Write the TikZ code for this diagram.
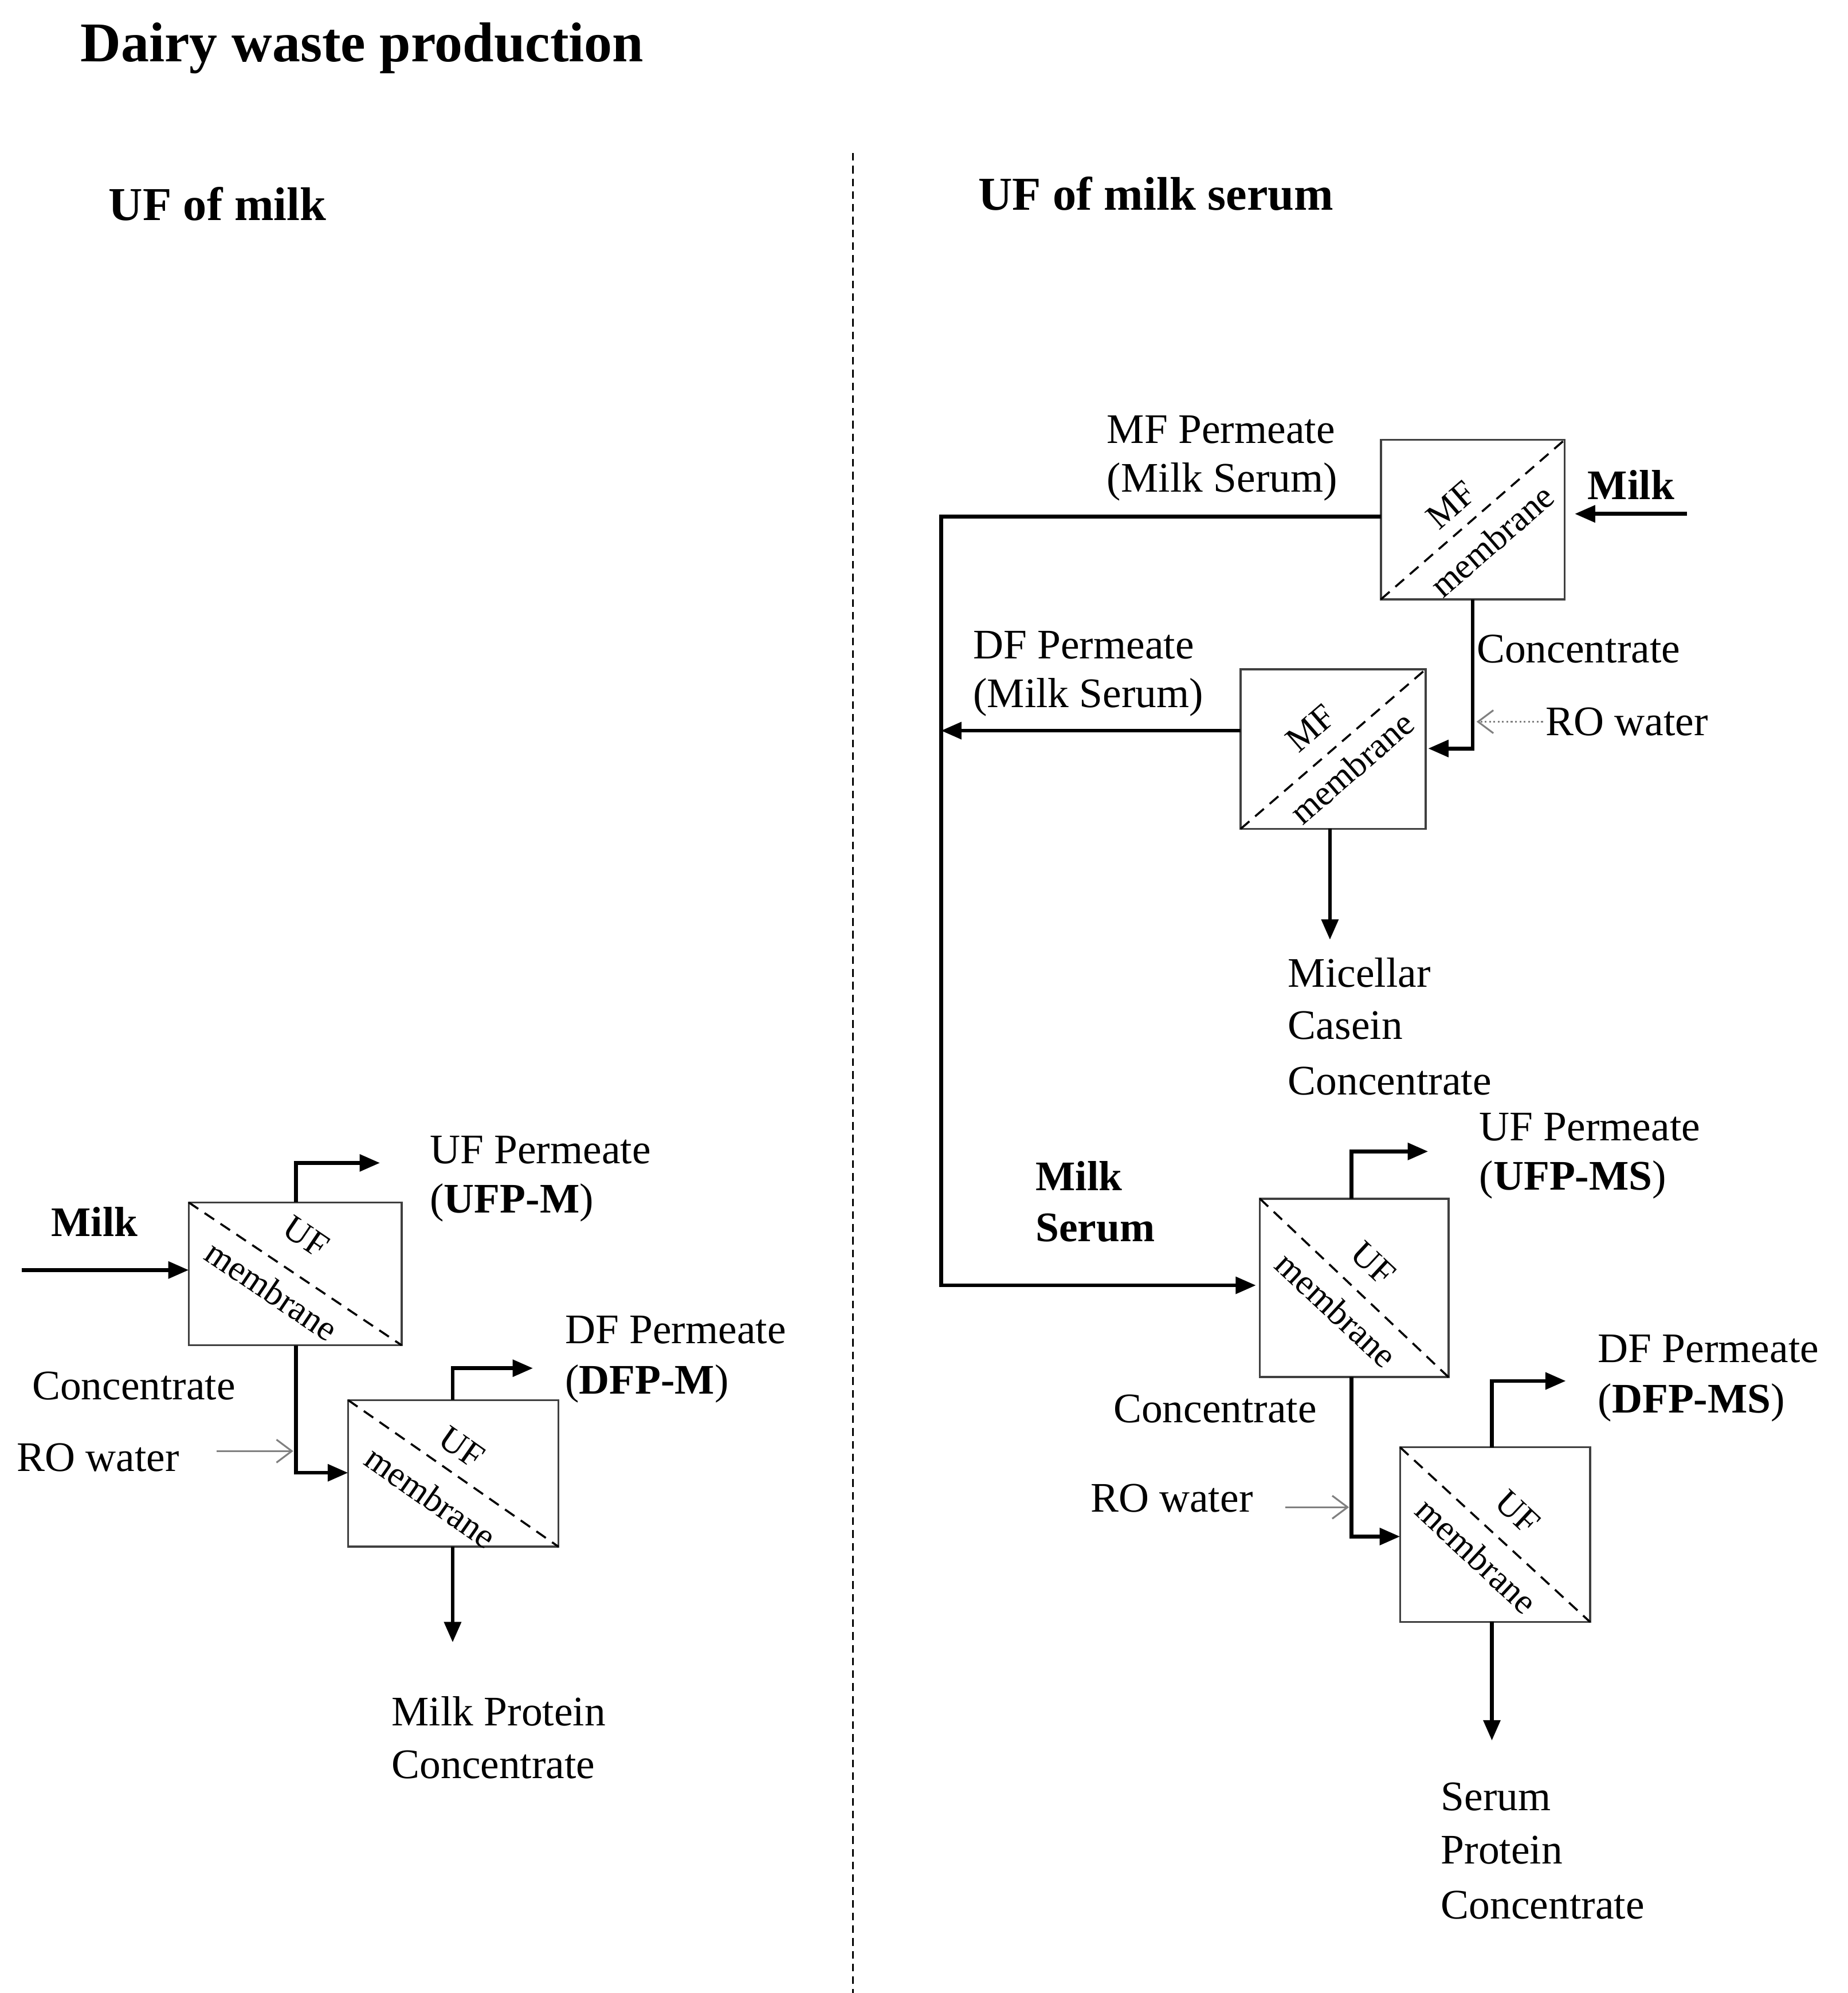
\documentclass[tikz,border=0pt]{standalone}
\usepackage{fontspec}
\setmainfont{Liberation Serif}
\usetikzlibrary{arrows.meta}
\begin{document}
\begin{tikzpicture}[x=1pt,y=-1pt,
 lbl/.style={font=\fontsize{33}{36}\selectfont,inner sep=0pt,anchor=west},
 blbl/.style={lbl,font=\fontsize{33}{36}\selectfont\bfseries},
 box/.style={draw=black!75,line width=1.6pt,fill=white},
 diag/.style={dash pattern=on 9pt off 6pt,line width=1.6pt},
 mem/.style={font=\fontsize{28}{30}\selectfont,inner sep=0pt},
 flow/.style={line width=3pt,-{Triangle[length=16pt,width=13pt]}},
 thin/.style={gray,line width=1.4pt,-{Straight Barb[length=12pt,width=18pt]}}]
\useasboundingbox (0,0) rectangle (1449,1563);
\node[lbl,font=\fontsize{44}{48}\selectfont\bfseries] (t) at (63,38) {Dairy waste production};
\node[lbl,font=\fontsize{37}{40}\selectfont\bfseries] (t1) at (85,160) {UF of milk};
\node[lbl,font=\fontsize{37}{40}\selectfont\bfseries] (t2) at (767,152) {UF of milk serum};
\coordinate (v1) at (669,120); \coordinate (v2) at (669,1563);
\draw[dash pattern=on 6pt off 4pt,line width=1.4pt] (v1)--(v2);
% ---- left
\draw[box] (148,943) rectangle (315,1055); \draw[diag] (148,943)--(315,1055);
\node[mem,rotate=-34] (u1) at (240,970) {UF};
\node[mem,rotate=-34] (m1) at (213,1012) {membrane};
\coordinate (a0) at (17,996); \coordinate (a1) at (148,996);
\draw[flow] (a0)--(a1);
\node[blbl] (milk1) at (40,958) {Milk};
\coordinate (p1) at (232,943); \coordinate (p1e) at (298,912);
\draw[flow] (p1)|-(p1e);
\node[lbl] (l1) at (337,902) {UF Permeate};
\node[lbl] (l2) at (337,943) {(\textbf{UFP-M})};
\draw[box] (273,1098) rectangle (438,1213); \draw[diag] (273,1098)--(438,1213);
\node[mem,rotate=-35] (u2) at (362,1135) {UF};
\node[mem,rotate=-35] (m2) at (338,1174) {membrane};
\coordinate (c1) at (232,1055); \coordinate (c1e) at (273,1155);
\draw[flow] (c1)|-(c1e);
\node[lbl] (l3) at (25,1087) {Concentrate};
\node[lbl] (l4) at (13,1143) {RO water};
\coordinate (r1) at (170,1138); \coordinate (r1e) at (230,1138);
\draw[thin] (r1)--(r1e);
\coordinate (p2) at (355,1098); \coordinate (p2e) at (418,1073);
\draw[flow] (p2)|-(p2e);
\node[lbl] (l5) at (443,1043) {DF Permeate};
\node[lbl] (l6) at (443,1085) {(\textbf{DFP-M})};
\coordinate (d2) at (355,1213); \coordinate (d2e) at (355,1288);
\draw[flow] (d2)--(d2e);
\node[lbl] (l7) at (307,1342) {Milk Protein};
\node[lbl] (l8) at (307,1384) {Concentrate};
% ---- right
\draw[box] (1083,345) rectangle (1227,470); \draw[diag] (1083,470)--(1227,345);
\node[mem,rotate=41] (u3) at (1138,396) {MF};
\node[mem,rotate=41] (m3) at (1170,424) {membrane};
\coordinate (b0) at (1323,403); \coordinate (b1) at (1235,403);
\draw[flow] (b0)--(b1);
\node[blbl] (milk2) at (1245,380) {Milk};
\node[lbl] (l9) at (868,337) {MF Permeate};
\node[lbl] (l10) at (868,378) {(Milk Serum)};
\coordinate (s0) at (1083,405); \coordinate (s1) at (738,405); \coordinate (s2) at (985,1008);
\draw[flow] (s0)--(s1)|-(s2);
\draw[box] (973,525) rectangle (1118,650); \draw[diag] (973,650)--(1118,525);
\node[mem,rotate=41] (u4) at (1028,571) {MF};
\node[mem,rotate=41] (m4) at (1060,602) {membrane};
\coordinate (c3) at (1155,470); \coordinate (c3e) at (1120,587);
\draw[flow] (c3)|-(c3e);
\node[lbl] (l11) at (1158,509) {Concentrate};
\node[lbl] (l12) at (1212,566) {RO water};
\coordinate (r3) at (1210,566); \coordinate (r3e) at (1158,566);
\draw[thin,dotted] (r3)--(r3e);
\coordinate (q0) at (973,573); \coordinate (q1) at (738,573);
\draw[flow] (q0)--(q1);
\node[lbl] (l13) at (763,506) {DF Permeate};
\node[lbl] (l14) at (763,547) {(Milk Serum)};
\coordinate (d4) at (1043,650); \coordinate (d4e) at (1043,737);
\draw[flow] (d4)--(d4e);
\node[lbl] (l15) at (1010,763) {Micellar};
\node[lbl] (l16) at (1010,804) {Casein};
\node[lbl] (l17) at (1010,848) {Concentrate};
\node[blbl] (l18) at (812,922) {Milk};
\node[blbl] (l19) at (812,963) {Serum};
\draw[box] (988,940) rectangle (1136,1080); \draw[diag] (988,940)--(1136,1080);
\node[mem,rotate=-43] (u5) at (1077,991) {UF};
\node[mem,rotate=-43] (m5) at (1048,1027) {membrane};
\coordinate (p5) at (1060,940); \coordinate (p5e) at (1120,903);
\draw[flow] (p5)|-(p5e);
\node[lbl] (l20) at (1160,884) {UF Permeate};
\node[lbl] (l21) at (1160,925) {(\textbf{UFP-MS})};
\draw[box] (1098,1135) rectangle (1247,1272); \draw[diag] (1098,1135)--(1247,1272);
\node[mem,rotate=-43] (u6) at (1190,1186) {UF};
\node[mem,rotate=-43] (m6) at (1158,1220) {membrane};
\coordinate (c5) at (1060,1080); \coordinate (c5e) at (1098,1205);
\draw[flow] (c5)|-(c5e);
\node[lbl] (l22) at (873,1105) {Concentrate};
\node[lbl] (l23) at (855,1175) {RO water};
\coordinate (r5) at (1008,1182); \coordinate (r5e) at (1058,1182);
\draw[thin] (r5)--(r5e);
\coordinate (p6) at (1170,1135); \coordinate (p6e) at (1228,1083);
\draw[flow] (p6)|-(p6e);
\node[lbl] (l24) at (1253,1058) {DF Permeate};
\node[lbl] (l25) at (1253,1100) {(\textbf{DFP-MS})};
\coordinate (d6) at (1170,1272); \coordinate (d6e) at (1170,1365);
\draw[flow] (d6)--(d6e);
\node[lbl] (l26) at (1130,1409) {Serum};
\node[lbl] (l27) at (1130,1451) {Protein};
\node[lbl] (l28) at (1130,1494) {Concentrate};
\end{tikzpicture}
\end{document}
